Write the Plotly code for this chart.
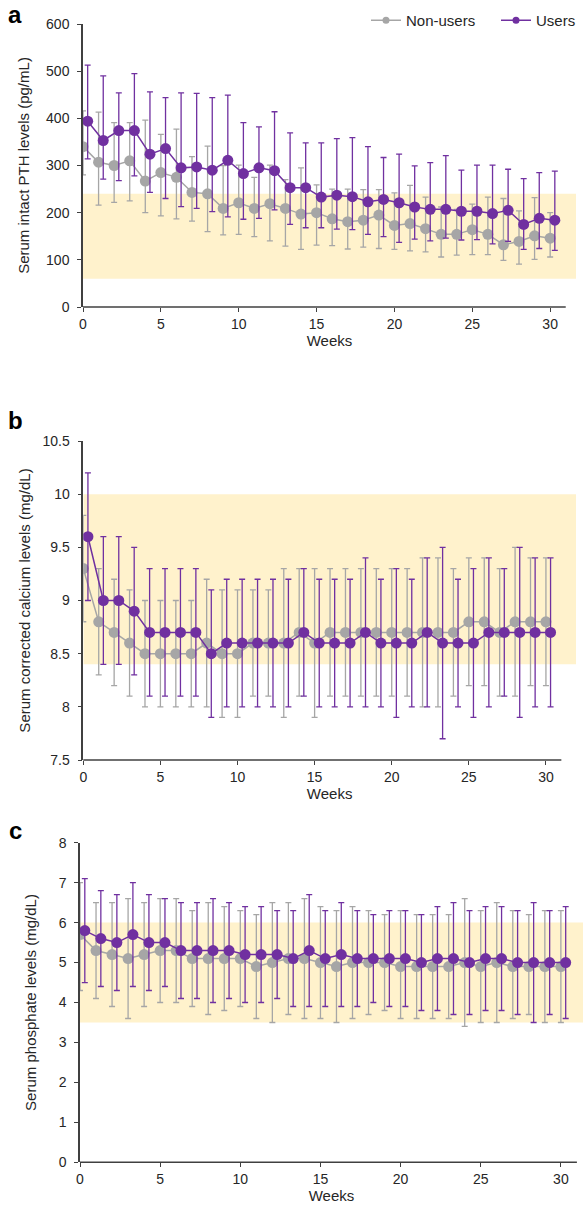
import plotly.graph_objects as go

# ---------------- data ----------------
weeks = list(range(31))

# Panel a: serum intact PTH (pg/mL)
pth_non_mean = [340, 307, 300, 310, 267, 285, 275, 243, 240, 209, 221, 209, 219, 209, 197, 200,
                187, 181, 184, 195, 173, 177, 166, 154, 154, 164, 154, 132, 139, 151, 146]
pth_non_top = [416, 413, 391, 391, 396, 366, 377, 319, 341, 300, 301, 275, 301, 270, 295, 259,
               250, 250, 249, 249, 242, 258, 233, 212, 207, 218, 233, 230, 204, 232, 200]
pth_non_bot = [280, 216, 222, 225, 200, 193, 187, 182, 160, 153, 154, 149, 140, 129, 122, 131,
               130, 123, 127, 124, 122, 119, 117, 106, 110, 111, 111, 99, 91, 101, 106]
pth_use_mean = [394, 353, 374, 374, 324, 336, 295, 297, 290, 311, 283, 295, 289, 253, 253, 233,
                237, 234, 223, 228, 221, 212, 207, 207, 203, 203, 198, 205, 175, 188, 184]
pth_use_top = [513, 490, 454, 495, 456, 444, 454, 453, 444, 449, 391, 382, 414, 369, 348, 348,
               357, 359, 340, 317, 324, 299, 306, 321, 290, 301, 301, 292, 272, 285, 288]
pth_use_bot = [314, 271, 268, 278, 243, 230, 213, 209, 202, 191, 186, 188, 206, 175, 168, 168,
               165, 164, 154, 149, 137, 144, 140, 146, 142, 143, 134, 139, 122, 124, 120]

# Panel b: serum corrected calcium (mg/dL)
ca_non_mean = [9.3, 8.8, 8.7, 8.6, 8.5, 8.5, 8.5, 8.5, 8.6, 8.5, 8.5, 8.6, 8.6, 8.6, 8.7, 8.6,
               8.7, 8.7, 8.7, 8.7, 8.7, 8.7, 8.7, 8.7, 8.7, 8.8, 8.8, 8.7, 8.8, 8.8, 8.8]
ca_non_top = [9.8, 9.3, 9.2, 9.1, 9.0, 9.0, 9.0, 9.0, 9.2, 9.1, 9.1, 9.1, 9.1, 9.3, 9.3, 9.3,
              9.3, 9.3, 9.3, 9.3, 9.3, 9.3, 9.4, 9.4, 9.3, 9.4, 9.4, 9.3, 9.5, 9.4, 9.4]
ca_non_bot = [8.8, 8.3, 8.2, 8.1, 8.0, 8.0, 8.0, 8.0, 8.0, 7.9, 7.9, 8.1, 8.1, 7.9, 8.1, 7.9,
              8.1, 8.1, 8.1, 8.1, 8.1, 8.1, 8.0, 8.0, 8.1, 8.2, 8.2, 8.1, 8.1, 8.2, 8.2]
ca_use_mean = [9.6, 9.0, 9.0, 8.9, 8.7, 8.7, 8.7, 8.7, 8.5, 8.6, 8.6, 8.6, 8.6, 8.6, 8.7, 8.6,
               8.6, 8.6, 8.7, 8.6, 8.6, 8.6, 8.7, 8.6, 8.6, 8.6, 8.7, 8.7, 8.7, 8.7, 8.7]
ca_use_top = [10.2, 9.6, 9.6, 9.5, 9.3, 9.3, 9.3, 9.3, 9.1, 9.2, 9.2, 9.2, 9.2, 9.2, 9.3, 9.2,
              9.2, 9.2, 9.4, 9.2, 9.3, 9.2, 9.4, 9.5, 9.2, 9.3, 9.4, 9.3, 9.5, 9.4, 9.4]
ca_use_bot = [9.0, 8.4, 8.4, 8.3, 8.1, 8.1, 8.1, 8.1, 7.9, 8.0, 8.0, 8.0, 8.0, 8.0, 8.1, 8.0,
              8.0, 8.0, 8.0, 8.0, 7.9, 8.0, 8.0, 7.7, 8.0, 7.9, 8.0, 8.1, 7.9, 8.0, 8.0]

# Panel c: serum phosphate (mg/dL)
p_non_mean = [5.7, 5.3, 5.2, 5.1, 5.2, 5.3, 5.3, 5.1, 5.1, 5.1, 5.1, 4.9, 5.0, 5.1, 5.1, 5.0,
              4.9, 5.0, 5.0, 5.0, 4.9, 4.9, 4.9, 4.9, 5.0, 4.9, 5.0, 4.9, 4.9, 4.9, 4.9]
p_non_top = [7.0, 6.5, 6.5, 6.6, 6.5, 6.6, 6.6, 6.3, 6.5, 6.4, 6.3, 6.2, 6.5, 6.5, 6.6, 6.4,
             6.3, 6.4, 6.3, 6.2, 6.3, 6.2, 6.2, 6.2, 6.6, 6.3, 6.5, 6.3, 6.2, 6.3, 6.3]
p_non_bot = [4.3, 4.1, 3.9, 3.6, 3.9, 4.0, 4.0, 3.9, 3.7, 3.8, 3.9, 3.6, 3.5, 3.7, 3.6, 3.6,
             3.5, 3.6, 3.7, 3.8, 3.6, 3.6, 3.6, 3.6, 3.4, 3.5, 3.5, 3.6, 3.7, 3.5, 3.5]
p_use_mean = [5.8, 5.6, 5.5, 5.7, 5.5, 5.5, 5.3, 5.3, 5.3, 5.3, 5.2, 5.2, 5.2, 5.1, 5.3, 5.1,
              5.2, 5.1, 5.1, 5.1, 5.1, 5.0, 5.1, 5.1, 5.0, 5.1, 5.1, 5.0, 5.0, 5.0, 5.0]
p_use_top = [7.1, 6.8, 6.7, 7.0, 6.7, 6.6, 6.5, 6.5, 6.6, 6.5, 6.4, 6.4, 6.3, 6.3, 6.7, 6.3,
             6.5, 6.3, 6.2, 6.3, 6.3, 6.2, 6.4, 6.5, 6.3, 6.4, 6.4, 6.3, 6.5, 6.3, 6.4]
p_use_bot = [4.5, 4.4, 4.3, 4.4, 4.3, 4.4, 4.1, 4.1, 4.0, 4.1, 4.0, 4.0, 4.1, 3.9, 3.9, 3.9,
             3.9, 3.9, 4.0, 3.9, 3.9, 3.8, 3.8, 3.7, 3.7, 3.8, 3.8, 3.7, 3.5, 3.7, 3.6]

# reference (normal) ranges
pth_range = [60, 240]
ca_range = [8.4, 10.0]
p_range = [3.5, 6.0]

series_names = ["Non-users", "Users"]
y_titles = ["Serum intact PTH levels (pg/mL)",
            "Serum corrected calcium levels (mg/dL)",
            "Serum phosphate levels (mg/dL)"]
panel_labels = ["a", "b", "c"]
x_title = "Weeks"
x_ticks = [0, 5, 10, 15, 20, 25, 30]
y_ticks = [[0, 100, 200, 300, 400, 500, 600],
           [7.5, 8, 8.5, 9, 9.5, 10, 10.5],
           [0, 1, 2, 3, 4, 5, 6, 7, 8]]
y_ticktext = [["0", "100", "200", "300", "400", "500", "600"],
              ["7.5", "8", "8.5", "9", "9.5", "10", "10.5"],
              ["0", "1", "2", "3", "4", "5", "6", "7", "8"]]

# ---------------- style ----------------
W, H = 584, 1208
GREY = "#a6a6a6"
PURPLE = "#7030a0"
BAND = "#fff2cc"
AXIS = "#404040"
TEXT = "#262626"
FONT = "Arial, Liberation Sans, sans-serif"
USER_OFFSET = 0.3
AXIS_END = 31

panels = [
    dict(non=(pth_non_mean, pth_non_top, pth_non_bot), use=(pth_use_mean, pth_use_top, pth_use_bot),
         band=pth_range, yr=[0, 600], xr=[0, 31.66], xd=[83, 576], yd=[24, 307], ystand=13),
    dict(non=(ca_non_mean, ca_non_top, ca_non_bot), use=(ca_use_mean, ca_use_top, ca_use_bot),
         band=ca_range, yr=[7.5, 10.5], xr=[0, 31.95], xd=[83.3, 576], yd=[441, 760], ystand=8),
    dict(non=(p_non_mean, p_non_top, p_non_bot), use=(p_use_mean, p_use_top, p_use_bot),
         band=p_range, yr=[0, 8], xr=[0, 31.38], xd=[80, 583], yd=[842.7, 1162.3], ystand=18),
]
label_pos = [(15, 15), (15, 421), (15, 830)]

fig = go.Figure()
shapes = []
annotations = []
layout_axes = {}

for i, p in enumerate(panels):
    sfx = "" if i == 0 else str(i + 1)
    xa, ya = "x" + sfx, "y" + sfx
    for j, (key, color) in enumerate([("non", GREY), ("use", PURPLE)]):
        mean, top, bot = p[key]
        xs = weeks if key == "non" else [w + USER_OFFSET for w in weeks]
        fig.add_trace(go.Scatter(
            x=xs, y=mean, name=series_names[j], mode="lines+markers",
            xaxis=xa, yaxis=ya, showlegend=False,
            line=dict(color=color, width=1.5),
            marker=dict(color=color, size=11),
            error_y=dict(type="data", symmetric=False,
                         array=[t - m for t, m in zip(top, mean)],
                         arrayminus=[m - b for m, b in zip(mean, bot)],
                         color=color, thickness=1.3, width=3),
        ))
    # reference band
    shapes.append(dict(type="rect", xref=xa, yref=ya, x0=0, x1=p["xr"][1],
                       y0=p["band"][0], y1=p["band"][1], fillcolor=BAND,
                       line=dict(width=0), layer="below"))
    # x axis line (ends at week 31, band extends further)
    shapes.append(dict(type="line", xref=xa + " domain", yref=ya + " domain",
                       x0=0, x1=AXIS_END / p["xr"][1], y0=0, y1=0,
                       line=dict(color=AXIS, width=1.5)))
    annotations.append(dict(text="<b>%s</b>" % panel_labels[i], xref="paper", yref="paper",
                            x=label_pos[i][0] / W, y=1 - label_pos[i][1] / H,
                            xanchor="center", yanchor="middle", showarrow=False,
                            font=dict(size=24, color="#000", family=FONT)))
    layout_axes["xaxis" + sfx] = dict(
        domain=[p["xd"][0] / W, p["xd"][1] / W], range=p["xr"], anchor=ya, automargin=False,
        showline=False, showgrid=False, zeroline=False,
        tickvals=x_ticks, ticks="outside", ticklen=4, tickwidth=1.3, tickcolor=AXIS,
        tickfont=dict(size=14, color=TEXT, family=FONT),
        title=dict(text=x_title, font=dict(size=15, color=TEXT, family=FONT), standoff=2),
    )
    layout_axes["yaxis" + sfx] = dict(
        domain=[1 - p["yd"][1] / H, 1 - p["yd"][0] / H], range=p["yr"], anchor=xa,
        automargin=False,
        showline=True, linecolor=AXIS, linewidth=1.5, showgrid=False, zeroline=False,
        tickvals=y_ticks[i], ticktext=y_ticktext[i],
        ticks="outside", ticklen=4, tickwidth=1.3, tickcolor=AXIS, ticklabelstandoff=5,
        tickfont=dict(size=14, color=TEXT, family=FONT),
        title=dict(text=y_titles[i], font=dict(size=15, color=TEXT, family=FONT),
                   standoff=p["ystand"]),
    )

# legend entries (small markers, as in the reference legend)
for j, color in enumerate([GREY, PURPLE]):
    fig.add_trace(go.Scatter(x=[None], y=[None], name=series_names[j], mode="lines+markers",
                             line=dict(color=color, width=1.5), marker=dict(color=color, size=7),
                             showlegend=True))

fig.update_layout(
    width=W, height=H, margin=dict(l=0, r=0, t=0, b=0, pad=0, autoexpand=False),
    paper_bgcolor="white", plot_bgcolor="white",
    font=dict(family=FONT, color=TEXT),
    shapes=shapes, annotations=annotations,
    legend=dict(orientation="h", x=366 / W, xanchor="left", y=1 - 4 / H, yanchor="top",
                entrywidth=85, entrywidthmode="pixels",
                font=dict(size=15, color=TEXT, family=FONT), itemwidth=30,
                bgcolor="rgba(0,0,0,0)", traceorder="normal"),
    **layout_axes,
)

fig.write_html("out.html", config={"displayModeBar": False},
               post_script="document.body.style.margin='0';document.body.style.overflow='hidden';")
